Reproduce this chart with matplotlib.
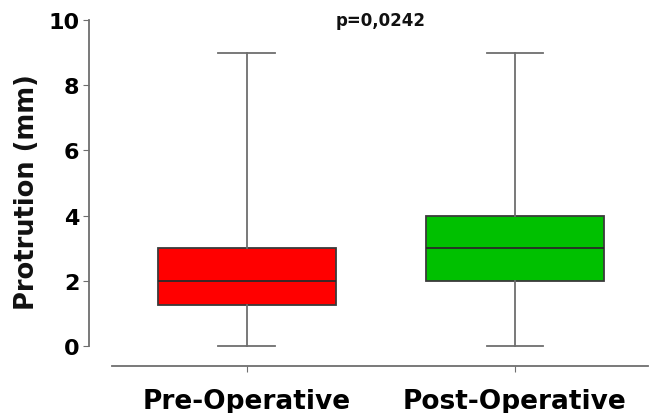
import matplotlib
matplotlib.use("Agg")
import matplotlib.pyplot as plt

# values
groups = ["Pre-Operative", "Post-Operative"]
whisker_low = [0, 0]
q1 = [1.25, 2]
median = [2, 3]
q3 = [3, 4]
whisker_high = [9, 9]
box_colors = ["#ff0000", "#00c000"]
y_ticks = [0, 2, 4, 6, 8, 10]
p_text = "p=0,0242"

stats = []
for i, name in enumerate(groups):
    stats.append({
        "label": name,
        "whislo": whisker_low[i],
        "q1": q1[i],
        "med": median[i],
        "q3": q3[i],
        "whishi": whisker_high[i],
    })

W, H = 654, 414
fig = plt.figure(figsize=(W / 100, H / 100), dpi=100)
# axes in pixel terms: left 89, right 650, top 21, bottom 367
ax = fig.add_axes([89 / W, 1 - 367 / H, (650 - 89) / W, (367 - 21) / H])

line_grey = "#6e6e6e"
bp = ax.bxp(stats, positions=[1, 2], widths=0.663, capwidths=0.21,
            patch_artist=True, showfliers=False,
            boxprops=dict(edgecolor="#3a3a3a", linewidth=1.3),
            medianprops=dict(color="#2a2a2a", linewidth=1.3),
            whiskerprops=dict(color=line_grey, linewidth=1.3),
            capprops=dict(color=line_grey, linewidth=1.3))
for patch, c in zip(bp["boxes"], box_colors):
    patch.set_facecolor(c)

ax.set_ylim(-0.613, 10)
ax.set_xlim(0.413, 2.503)
ax.spines["top"].set_visible(False)
ax.spines["right"].set_visible(False)
ax.spines["left"].set_bounds(0, 10)
ax.spines["bottom"].set_bounds(0.5, 2.495)
for s in ["left", "bottom"]:
    ax.spines[s].set_color(line_grey)
    ax.spines[s].set_linewidth(1.3)

ax.set_yticks(y_ticks)
ax.set_yticklabels([str(t) for t in y_ticks], fontsize=16, fontweight="bold")
ax.set_xticks([1, 2])
ax.set_xticklabels(groups, fontsize=19, fontweight="bold")
ax.tick_params(axis="y", length=4, color=line_grey, pad=3)
ax.tick_params(axis="x", length=4, color=line_grey, pad=12)

fig.text(27 / W, 1 - 192 / H, "Protrution (mm)", rotation=90, ha="center",
         va="center", fontsize=18.5, fontweight="bold", color="#111111")
ax.text(1.5, 10, p_text, ha="center", va="center", fontsize=12,
        fontweight="bold", color="#111111")

fig.savefig("out.png", dpi=100)
